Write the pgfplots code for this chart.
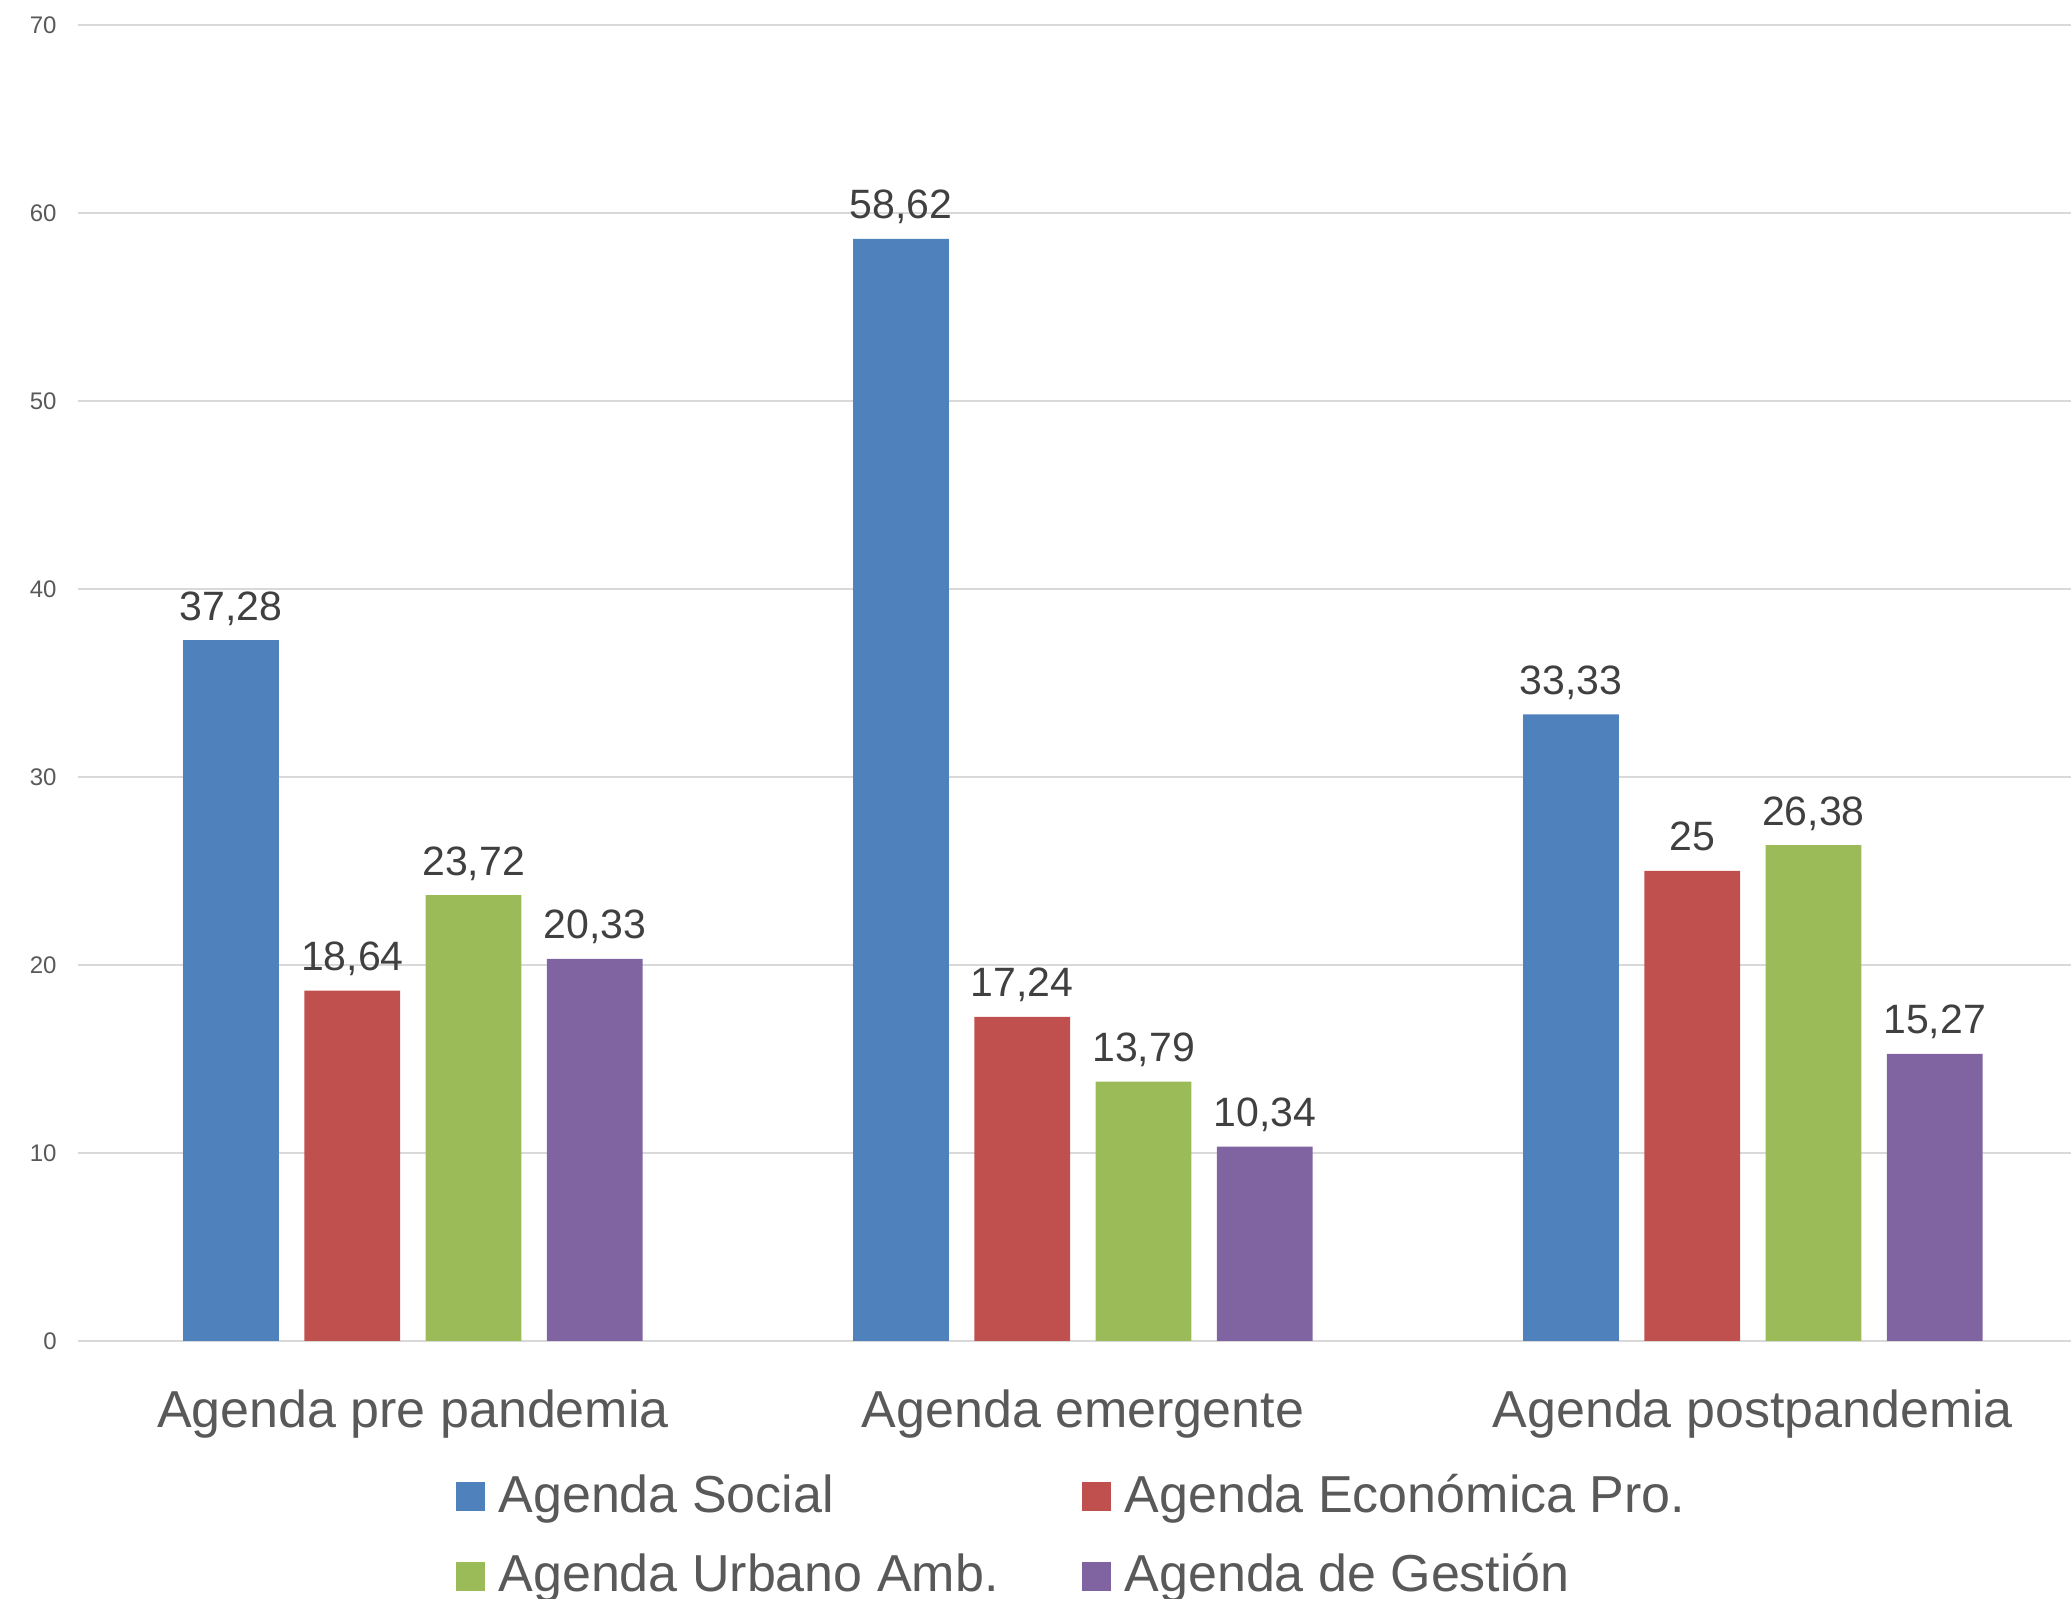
\documentclass[border=0pt]{standalone}
\usepackage{pgfplots}
\pgfplotsset{compat=1.18}
\usepackage{fontspec}
\setmainfont{Liberation Sans}

\definecolor{cSocial}{HTML}{4F81BD}
\definecolor{cEcon}{HTML}{C0504D}
\definecolor{cUrb}{HTML}{9BBB59}
\definecolor{cGest}{HTML}{8064A2}
\definecolor{txt}{HTML}{595959}
\definecolor{lbl}{HTML}{404040}
\definecolor{gridgray}{HTML}{D9D9D9}

\begin{document}
\begin{tikzpicture}
\begin{axis}[
	scale only axis,
	width=996.5pt, height=658pt,
	xmin=-0.5, xmax=2.475,
	ymin=0, ymax=70,
	ytick={0,10,...,70},
	xtick={0,1,2},
	xticklabels={Agenda pre pandemia, Agenda emergente, Agenda postpandemia},
	xmajorgrids=false,
	ymajorgrids=true,
	major grid style={draw=gridgray, line width=1pt},
	axis line style={draw=none},
	tick style={draw=none},
	/pgf/number format/assume math mode=true,
	/pgf/number format/use comma,
	yticklabel style={font=\fontsize{12}{14}\selectfont, text=txt,
		anchor=east, inner sep=0pt, xshift=-10.5pt},
	xticklabel style={font=\fontsize{26}{31}\selectfont, text=txt,
		anchor=base, inner sep=0pt, yshift=-39pt},
	ybar,
	bar width=0.143,
	nodes near coords,
	every node near coord/.append style={font=\fontsize{20.5}{24}\selectfont,
		text=lbl, anchor=base, inner sep=0pt, yshift=10pt},
	legend columns=2,
	legend cell align=left,
	legend image code/.code={\fill[#1] (0pt,-6.5pt) rectangle (14.5pt,8pt);},
	legend style={at={(axis description cs:0.5,0)}, anchor=north,
		yshift=-63.5pt, xshift=-2pt, draw=none, fill=none,
		font=\fontsize{26}{31}\selectfont, text=txt,
		nodes={inner sep=0pt, text height=20pt, text depth=6pt},
		row sep=13.7pt,
		/tikz/every odd column/.append style={column sep=7pt},
		/tikz/every even column/.append style={column sep=41.5pt}},
]
\addplot[fill=cSocial, draw=none, bar shift=-0.2715]
	coordinates {(0,37.28) (1,58.62) (2,33.33)};
\addplot[fill=cEcon, draw=none, bar shift=-0.0905]
	coordinates {(0,18.64) (1,17.24) (2,25)};
\addplot[fill=cUrb, draw=none, bar shift=0.0905]
	coordinates {(0,23.72) (1,13.79) (2,26.38)};
\addplot[fill=cGest, draw=none, bar shift=0.2715]
	coordinates {(0,20.33) (1,10.34) (2,15.27)};
\legend{Agenda Social, Agenda Económica Pro., Agenda Urbano Amb., Agenda de Gestión}
\end{axis}
\pgfresetboundingbox
\path[use as bounding box] ([xshift=-39pt,yshift=12.5pt]current axis.north west)
	rectangle ([yshift=-129pt]current axis.south east);
\end{tikzpicture}
\end{document}
